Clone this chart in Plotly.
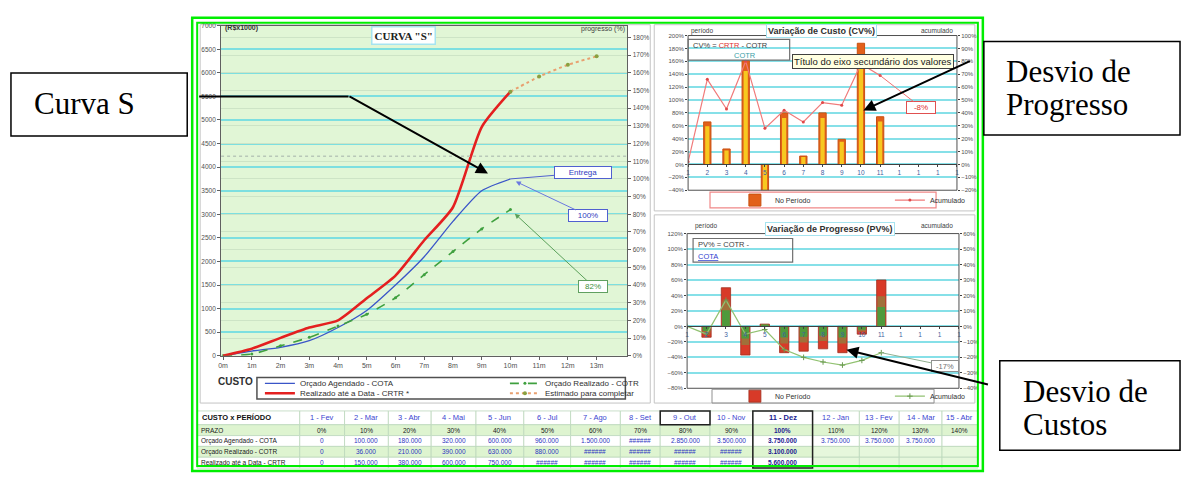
import plotly.graph_objects as go

W, H = 1187, 477
def X(px): return px / W
def Y(py): return 1 - py / H

# ---------------- dados ----------------
EIXO_MESES = ["0m", "1m", "2m", "3m", "4m", "5m", "6m", "7m", "8m", "9m", "10m", "11m", "12m", "13m"]
PERIODOS = [0, 1, 2, 3, 4, 5, 6, 7, 8, 9, 10]
COTA = [0, 100, 180, 320, 600, 960, 1500, 2100, 2850, 3500, 3750]          # R$ x1000
COTR = [0, 36, 210, 390, 630, 880, 1230, 1720, 2210, 2690, 3100]
CRTR = [0, 150, 380, 600, 750, 1220, 1700, 2450, 3150, 4850, 5600]
EST_X = [10, 11, 12, 13]
ESTIMADO = [5600, 5920, 6170, 6350]
LIMITE = 4230
ORCAMENTO = 3750
Y_MAX = 7000

CAT_BARRAS = ["1", "2", "3", "4", "5", "6", "7", "8", "9", "10", "11", "1", "1", "1", "1"]
BAR_X = [1, 2, 3, 4, 5, 6, 7, 8, 9, 10]
CV_PERIODO = [66, 24, 161, -45, 80, 13, 80, 39, 188, 74]
CV_ACUM = [2, 66, 43, 80, 28, 42, 33, 48, 46, 78, 69]
PV_PERIODO = [-14, 50, -37, 3, -34, -32, -29, -34, -10, 60]
PV_ACUM = [0, -5, 17, -5, -2, -15, -20, -23, -25, -22, -17]

TAB_MESES = ["1 - Fev", "2 - Mar", "3 - Abr", "4 - Mai", "5 - Jun", "6 - Jul", "7 - Ago", "8 - Set",
             "9 - Out", "10 - Nov", "11 - Dez", "12 - Jan", "13 - Fev", "14 - Mar", "15 - Abr"]
PRAZO = [0, 10, 20, 30, 40, 50, 60, 70, 80, 90, 100, 110, 120, 130, 140]
COTA_EXTRA = [3750, 3750, 3750]
OVERFLOW_COTA = [7]
OVERFLOW_COTR = [6, 7, 8, 9]
OVERFLOW_CRTR = [5, 6, 7, 8, 9]
ROTULOS_LINHAS = ["PRAZO", "Orçado Agendado - COTA", "Orçado Realizado - COTR", "Realizado até a Data - CRTR"]

FONT = "Liberation Sans"
SERIF = "Liberation Serif"

XR = [-0.07, 14.07]

fig = go.Figure()

# ---------------- Curva S ----------------
fig.add_trace(go.Scatter(x=PERIODOS, y=COTA, mode="lines", name="Orçado Agendado - COTA",
                         line=dict(color="#3a55c8", width=1.3, shape="spline", smoothing=0.6),
                         xaxis="x", yaxis="y", legend="legend"))
fig.add_trace(go.Scatter(x=PERIODOS, y=COTR, mode="lines+markers", name="Orçado Realizado - COTR",
                         line=dict(color="#3fa03f", width=1.6, dash="dash", shape="spline", smoothing=0.6),
                         marker=dict(size=3, color="#3fa03f"),
                         xaxis="x", yaxis="y", legend="legend"))
fig.add_trace(go.Scatter(x=PERIODOS, y=CRTR, mode="lines", name="Realizado até a Data - CRTR *",
                         line=dict(color="#e42020", width=2.6, shape="spline", smoothing=0.6),
                         xaxis="x", yaxis="y", legend="legend2"))
fig.add_trace(go.Scatter(x=EST_X, y=ESTIMADO, mode="lines+markers", name="Estimado para completar",
                         line=dict(color="#e8a070", width=2, dash="dot", shape="spline", smoothing=0.6),
                         marker=dict(size=4, color="#8aa040"),
                         xaxis="x", yaxis="y", legend="legend2"))
fig.add_trace(go.Scatter(x=XR, y=[LIMITE, LIMITE], mode="lines", showlegend=False, hoverinfo="skip",
                         line=dict(color="#b8c8b8", width=1.5, dash="dot"), xaxis="x", yaxis="y"))
fig.add_trace(go.Scatter(x=PERIODOS, y=[v / ORCAMENTO * 100 for v in COTA], mode="lines", opacity=0,
                         showlegend=False, hoverinfo="skip", xaxis="x", yaxis="y2"))

# ---------------- CV% ----------------
fig.add_trace(go.Bar(x=BAR_X, y=CV_PERIODO, width=0.38, name="No Período",
                     marker=dict(color="#e2601a", line=dict(color="#c85010", width=1)),
                     xaxis="x3", yaxis="y3", legend="legend3"))
fig.add_trace(go.Bar(x=BAR_X, y=[v * 0.9 for v in CV_PERIODO], width=0.22, showlegend=False, hoverinfo="skip",
                     marker=dict(color="#f7c820", line=dict(width=0)), xaxis="x3", yaxis="y3"))
fig.add_trace(go.Scatter(x=PERIODOS, y=CV_ACUM, mode="lines+markers", name="Acumulado",
                         line=dict(color="#f07a7a", width=1.2), marker=dict(size=3, color="#e04848"),
                         xaxis="x3", yaxis="y4", legend="legend3"))

# ---------------- PV% ----------------
fig.add_trace(go.Bar(x=BAR_X, y=PV_PERIODO, width=0.48, name="No Período",
                     marker=dict(color="#d83a28", line=dict(color="#a03020", width=0.8)),
                     xaxis="x5", yaxis="y5", legend="legend4"))
fig.add_trace(go.Bar(x=BAR_X, y=[v * 0.65 for v in PV_PERIODO], width=0.40, showlegend=False, hoverinfo="skip",
                     marker=dict(color="#a0703a", line=dict(width=0)), xaxis="x5", yaxis="y5"))
fig.add_trace(go.Bar(x=BAR_X, y=[v * 0.42 for v in PV_PERIODO], width=0.40, showlegend=False, hoverinfo="skip",
                     marker=dict(color="#4f9a3c", line=dict(width=0)), xaxis="x5", yaxis="y5"))
fig.add_trace(go.Scatter(x=PERIODOS, y=PV_ACUM, mode="lines+markers", name="Acumulado",
                         line=dict(color="#92c272", width=1.2),
                         marker=dict(size=4, color="#6a9a50", symbol="cross-thin", line=dict(color="#6a9a50", width=1)),
                         xaxis="x5", yaxis="y6", legend="legend4"))

# ---------------- eixos ----------------
tick_small = dict(family=FONT, size=6.5, color="#505050")
d3 = [Y(189), Y(32)]
d5 = [Y(390), Y(233)]
pos3 = d3[0] + (0 - (-40)) / 240 * (d3[1] - d3[0])
pos5 = d5[0] + (0 - (-80)) / 200 * (d5[1] - d5[0])

fig.update_layout(
    width=W, height=H, margin=dict(l=0, r=0, t=0, b=0),
    paper_bgcolor="white", plot_bgcolor="white", barmode="overlay",
    xaxis=dict(domain=[X(219), X(627)], range=XR, tickvals=list(range(14)), ticktext=EIXO_MESES,
               showgrid=False, zeroline=False, showline=True, linecolor="#606060", mirror=True,
               ticks="outside", ticklen=3, tickcolor="#606060", tickfont=dict(family=FONT, size=7, color="#505050"),
               anchor="y"),
    yaxis=dict(domain=[Y(357), Y(22)], range=[0, Y_MAX], dtick=500, gridcolor="#7ddfe0", gridwidth=2,
               zeroline=False, showline=True, linecolor="#606060", ticks="outside", ticklen=3, tickcolor="#606060",
               tickfont=tick_small, anchor="x"),
    yaxis2=dict(overlaying="y", side="right", range=[0, Y_MAX / ORCAMENTO * 100], dtick=10, ticksuffix="%",
                gridcolor="#cde4c6", gridwidth=1, zeroline=False, showline=True, linecolor="#606060",
                ticks="outside", ticklen=3, tickcolor="#606060", tickfont=tick_small, anchor="x"),
    xaxis3=dict(domain=[X(688), X(958)], range=[0, 14], tickvals=list(range(15)), ticktext=CAT_BARRAS,
                anchor="free", position=pos3, showgrid=False, zeroline=False, showline=True,
                linecolor="#404040", ticks="outside", ticklen=2, tickcolor="#404040",
                tickfont=dict(family=FONT, size=6.5, color="#4060a0")),
    yaxis3=dict(domain=d3, range=[-40, 200], dtick=20, ticksuffix="%", gridcolor="#86e0e8", gridwidth=1.5,
                zeroline=False, ticks="outside", ticklen=2, tickcolor="#404040",
                tickfont=dict(family=FONT, size=6, color="#505050"), anchor="x3"),
    yaxis4=dict(overlaying="y3", side="right", anchor="x3", range=[-20, 100], dtick=10, ticksuffix="%",
                showgrid=False, zeroline=False, ticks="outside", ticklen=2, tickcolor="#404040",
                tickfont=dict(family=FONT, size=6, color="#505050")),
    xaxis5=dict(domain=[X(687), X(960)], range=[0, 14], tickvals=list(range(15)), ticktext=CAT_BARRAS,
                anchor="free", position=pos5, showgrid=False, zeroline=False, showline=True,
                linecolor="#404040", ticks="outside", ticklen=2, tickcolor="#404040",
                tickfont=dict(family=FONT, size=6.5, color="#4060a0")),
    yaxis5=dict(domain=d5, range=[-80, 120], dtick=20, ticksuffix="%", gridcolor="#86e0e8", gridwidth=2,
                zeroline=False, ticks="outside", ticklen=2, tickcolor="#404040",
                tickfont=dict(family=FONT, size=6, color="#505050"), anchor="x5"),
    yaxis6=dict(overlaying="y5", side="right", anchor="x5", range=[-40, 60], dtick=10, ticksuffix="%",
                showgrid=False, zeroline=False, ticks="outside", ticklen=2, tickcolor="#404040",
                tickfont=dict(family=FONT, size=6, color="#505050")),
)

leg_common = dict(orientation="h", xanchor="left", yanchor="middle", bgcolor="rgba(0,0,0,0)",
                  itemwidth=30, entrywidthmode="pixels", tracegroupgap=0)
fig.update_layout(
    legend=dict(x=X(258), y=Y(385), entrywidth=200, font=dict(family=FONT, size=8, color="#303030"), **leg_common),
    legend2=dict(x=X(258), y=Y(395), entrywidth=200, font=dict(family=FONT, size=8, color="#303030"), **leg_common),
    legend3=dict(x=X(735), y=Y(199), entrywidth=110, font=dict(family=FONT, size=7, color="#303030"), **leg_common),
    legend4=dict(x=X(735), y=Y(398), entrywidth=110, font=dict(family=FONT, size=7, color="#303030"), **leg_common),
)

# ---------------- formas ----------------
def rect(x0, y0, x1, y1, color="#000", width=1, fill=None, layer="above"):
    d = dict(type="rect", xref="paper", yref="paper", x0=X(x0), x1=X(x1), y0=Y(y0), y1=Y(y1),
             line=dict(color=color, width=width), layer=layer)
    if fill:
        d["fillcolor"] = fill
    return d

def txt(px, py, text, size=8, color="#333", family=FONT, xanchor="center", **kw):
    return dict(x=X(px), y=Y(py), xref="paper", yref="paper", text=text, showarrow=False,
                font=dict(size=size, color=color, family=family), xanchor=xanchor, yanchor="middle", **kw)

def arrow(tipx, tipy, tailx, taily, color="black", width=2, head=2, size=1.2):
    return dict(x=X(tipx), y=Y(tipy), xref="paper", yref="paper", ax=tailx - tipx, ay=taily - tipy,
                axref="pixel", ayref="pixel", text="", showarrow=True, arrowhead=head, arrowsize=size,
                arrowwidth=width, arrowcolor=color, standoff=0)

shapes = [
    dict(type="rect", xref="x domain", yref="y domain", x0=0, x1=1, y0=0, y1=1,
         fillcolor="#e1f6d6", line=dict(width=0), layer="below"),
    rect(198, 21, 650, 405, "#c4c4c4", 1, layer="below"),
    rect(654, 21, 976, 210, "#c4c4c4", 1, layer="below"),
    rect(654, 214, 976, 405, "#c4c4c4", 1, layer="below"),
    dict(type="rect", xref="x3 domain", yref="y3 domain", x0=0, x1=1, y0=0, y1=1, line=dict(color="#505050", width=1)),
    dict(type="rect", xref="x5 domain", yref="y5 domain", x0=0, x1=1, y0=0, y1=1, line=dict(color="#505050", width=1)),
    rect(255, 379, 625, 401, "#505050", 1.5),
    rect(710, 191, 937, 207, "#f08888", 1.2),
    rect(712, 391, 935, 405, "#909090", 1),
    rect(688, 36, 790, 57, "#707070", 1.2),
    rect(693, 238, 793, 262, "#707070", 1.2),
]

annotations = []

# ---------------- Tabela (células desenhadas) ----------------
def fmt(v):
    return "" if v is None else f"{v * 1000:,.0f}".replace(",", ".")

tab_cota = COTA + COTA_EXTRA + [None]
tab_cotr = COTR + [None] * 4
tab_crtr = CRTR + [None] * 4

COL_EDGES = [195, 298, 343, 387, 430, 475, 523, 570, 620, 660, 710, 753, 813, 860, 900, 943, 979]
ROW_EDGES = [413, 427, 438, 449, 460, 471]
ROW_FILL = ["#ffffff", "#def4d0", "#ffffff", "#def4d0", "#ffffff"]

for r in range(5):
    for c in range(16):
        fill = ROW_FILL[r]
        if c >= 12 and r >= 3:
            fill = "#e6f7dc"
        shapes.append(rect(COL_EDGES[c], ROW_EDGES[r], COL_EDGES[c + 1], ROW_EDGES[r + 1],
                           "#bcd8bc", 0.8, fill=fill, layer="below"))

def cell_text(arr, ovf, i):
    if i in ovf:
        return "######"
    return fmt(arr[i])

for r in range(5):
    yc = (ROW_EDGES[r] + ROW_EDGES[r + 1]) / 2
    if r == 0:
        annotations.append(txt(COL_EDGES[0] + 3, yc, "<b>CUSTO x PERÍODO</b>", 7.5, "#101010", xanchor="left"))
    else:
        annotations.append(txt(COL_EDGES[0] + 2, yc, ROTULOS_LINHAS[r - 1], 6.5, "#202020", xanchor="left"))
    for i in range(15):
        xc = (COL_EDGES[i + 1] + COL_EDGES[i + 2]) / 2
        if r == 0:
            t, col, sz = TAB_MESES[i], "#3a44d0", 7.5
        elif r == 1:
            t, col, sz = f"{PRAZO[i]}%", "#202020", 6.5
        elif r == 2:
            t, col, sz = cell_text(tab_cota, OVERFLOW_COTA, i), "#2b34c0", 6.5
        elif r == 3:
            t, col, sz = cell_text(tab_cotr, OVERFLOW_COTR, i), "#2b34c0", 6.5
        else:
            t, col, sz = cell_text(tab_crtr, OVERFLOW_CRTR, i), "#2b34c0", 6.5
        if not t:
            continue
        if i == 10:
            t = f"<b>{t}</b>"
            col = "#1a2090"
        annotations.append(txt(xc, yc, t, sz, col))

shapes += [
    rect(753, 413, 813, 471, "#202020", 1.5),
    rect(660, 413, 710, 427, "#202020", 1.5),
    # moldura verde
    rect(190, 14, 984, 474, "#00ee00", 2.5),
    rect(195, 19, 979, 469, "#00ee00", 2),
    # caixas explicativas
    rect(8, 70, 185, 134, "#000000", 1.5),
    rect(985, 38, 1182, 133, "#000000", 1.5),
    rect(1001, 362, 1182, 453, "#000000", 1.5),
    dict(type="line", xref="paper", yref="paper", x0=X(197), x1=X(347), y0=Y(94), y1=Y(94),
         line=dict(color="black", width=2)),
]

annotations += [
    txt(402, 32, '<b>CURVA "S"</b>', 11, "#202020", SERIF, bordercolor="#a6e4f0", borderwidth=1.5,
        bgcolor="white", borderpad=2),
    txt(221, 24, "<b>(R$x1000)</b>", 7, "#303030", xanchor="left"),
    txt(578, 25, "progresso (%)", 7, "#404040", xanchor="left"),
    txt(214, 383, "<b>CUSTO</b>", 10, "#303030", xanchor="left"),
    dict(x=PERIODOS[-1], y=COTA[-1], xref="x", yref="y", ax=73, ay=-6, text="Entrega", showarrow=True,
         arrowhead=0, arrowwidth=1, arrowcolor="#5060d0", font=dict(family=FONT, size=8, color="#3040c0"),
         bordercolor="#5060d0", borderwidth=1, bgcolor="white", width=54, height=9, borderpad=1),
    dict(x=PERIODOS[-1], y=COTA[-1], xref="x", yref="y", ax=78, ay=37, text="100%", showarrow=True,
         arrowhead=2, arrowwidth=1, arrowcolor="#6a78e0", standoff=6,
         font=dict(family=FONT, size=8, color="#3040c0"),
         bordercolor="#5060d0", borderwidth=1, bgcolor="white", width=36, height=9, borderpad=1),
    dict(x=PERIODOS[-1], y=COTR[-1], xref="x", yref="y", ax=83, ay=77, text="82%", showarrow=True,
         arrowhead=2, arrowwidth=1, arrowcolor="#5aa05a", standoff=6,
         font=dict(family=FONT, size=8, color="#409040"),
         bordercolor="#60a060", borderwidth=1, bgcolor="white", width=26, height=9, borderpad=1),
    # CV
    txt(822, 27, "<b>Variação de Custo (CV%)</b>", 9, "#303030", bordercolor="#a6e4f0", borderwidth=1,
        bgcolor="white", borderpad=1),
    txt(702, 27, "período", 6.5, "#404040"),
    txt(938, 27, "acumulado", 6.5, "#404040"),
    txt(691, 42, "CV% = <span style='color:#e03030'>CRTR</span> - COTR", 7.5, "#404040", xanchor="left"),
    txt(745, 52, "COTR", 7.5, "#3aa0a8"),
    txt(874, 58, "Título do eixo secundário dos valores", 9.5, "#202020", bgcolor="#ffffe1",
        bordercolor="#404040", borderwidth=1, borderpad=1),
    dict(x=PERIODOS[-1], y=CV_ACUM[-1], xref="x3", yref="y4", ax=41, ay=32, text="-8%", showarrow=True,
         arrowhead=0, arrowwidth=1, arrowcolor="#f07070", font=dict(family=FONT, size=8, color="#e03030"),
         bordercolor="#e05050", borderwidth=1, bgcolor="white", width=26, height=9, borderpad=1),
    # PV
    txt(830, 228, "<b>Variação de Progresso (PV%)</b>", 9, "#303030", bordercolor="#a6e4f0", borderwidth=1,
        bgcolor="white", borderpad=1),
    txt(706, 225, "período", 6.5, "#404040"),
    txt(938, 225, "acumulado", 6.5, "#404040"),
    txt(696, 244, "PV% = COTR -", 7.5, "#404040", xanchor="left"),
    txt(696, 256, "<u>COTA</u>", 7.5, "#3040d0", xanchor="left"),
    dict(x=PERIODOS[-1], y=PV_ACUM[-1], xref="x5", yref="y6", ax=64, ay=13, text="-17%", showarrow=True,
         arrowhead=0, arrowwidth=1, arrowcolor="#90b090", font=dict(family=FONT, size=7.5, color="#707070"),
         bordercolor="#909090", borderwidth=1, bgcolor="white", width=24, height=8, borderpad=1),
    # caixas explicativas
    txt(29, 101, "Curva S", 31, "#000000", SERIF, xanchor="left"),
    txt(1005, 69, "Desvio de", 31, "#000000", SERIF, xanchor="left"),
    txt(1005, 102, "Progresso", 31, "#000000", SERIF, xanchor="left"),
    txt(1022, 393, "Desvio de", 31, "#000000", SERIF, xanchor="left"),
    txt(1022, 427, "Custos", 31, "#000000", SERIF, xanchor="left"),
    arrow(487, 172, 347, 94),
    arrow(864, 108, 972, 58),
    arrow(847, 351, 990, 386),
]

fig.update_layout(shapes=shapes, annotations=annotations)
fig.write_html("out.html")
